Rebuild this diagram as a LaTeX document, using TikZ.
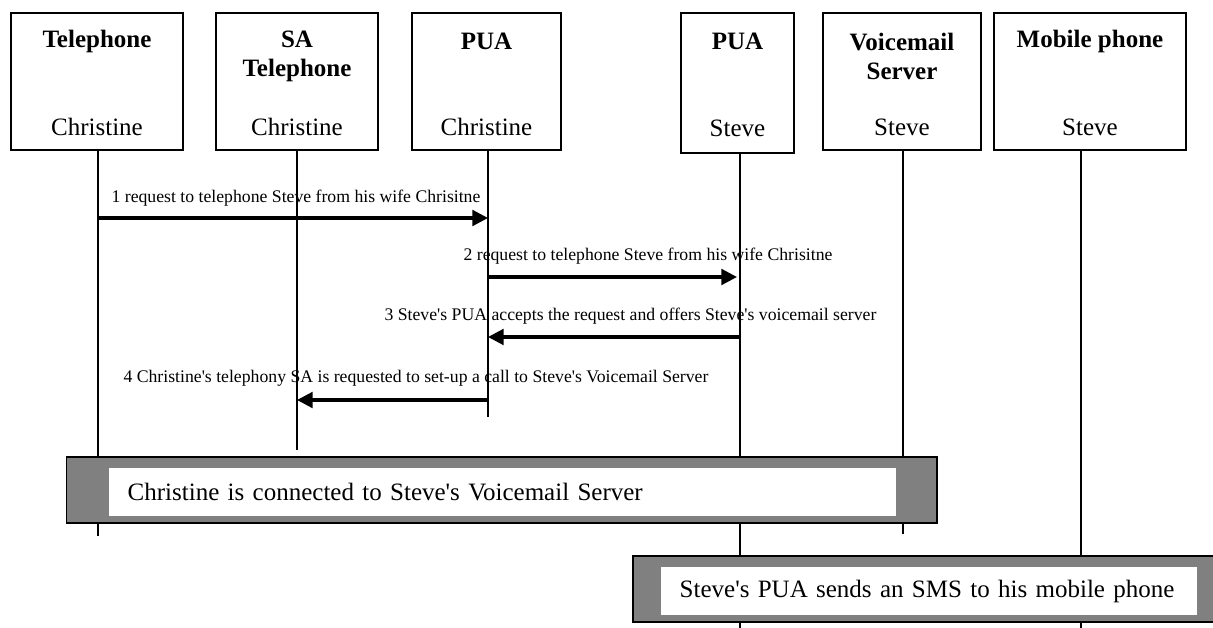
\documentclass[tikz,border=0pt]{standalone}
\usepackage{fontspec}
\setmainfont{Liberation Serif}
\usetikzlibrary{arrows.meta, positioning}

\begin{document}
\begin{tikzpicture}[x=0.48pt, y=-0.48pt,
        actor/.style={draw, line width=0.6pt, inner sep=0, minimum height=65.8pt},
        title/.style={inner sep=0, align=center, font=\fontsize{12}{13.9}\selectfont\bfseries},
        who/.style={inner sep=0, font=\fontsize{12}{14}\selectfont},
        life/.style={line width=0.5pt},
        msg/.style={line width=1.5pt, -{Triangle[length=7.5pt, width=7.5pt]}},
        note/.style={inner sep=0, font=\fontsize{8.5}{10}\selectfont},
        band/.style={draw, line width=0.6pt, fill=gray, minimum height=31.7pt},
        bandtext/.style={fill=white, inner xsep=9pt, inner ysep=0, minimum height=23pt,
            align=left, font=\fontsize{12}{14}\selectfont}]
        \useasboundingbox (0,0) rectangle (1213,628);

        % participants
        \node[actor, minimum width=82.6pt] (tel) at (97,81.5) {};
        \node[actor, minimum width=77.8pt] (sa) at (297,81.5) {};
        \node[actor, minimum width=71.5pt] (puac) at (486.5,81.5) {};
        \node[actor, minimum width=54.2pt, minimum height=67.2pt] (puas) at (737.5,83) {};
        \node[actor, minimum width=75.8pt] (vm) at (902,81.5) {};
        \node[actor, minimum width=92.2pt] (mob) at (1090,81.5) {};

        \node[title] (tel-t) at (97,41) {Telephone};
        \node[title] (sa-t) at (297,56) {SA\\Telephone};
        \node[title] (puac-t) at (486.5,41) {PUA};
        \node[title] (puas-t) at (737.5,41) {PUA};
        \node[title] (vm-t) at (902,56) {Voicemail\\Server};
        \node[title] (mob-t) at (1090,41) {Mobile phone};

        \node[who] (tel-n) at (97,127) {Christine};
        \node[who] (sa-n) at (297,127) {Christine};
        \node[who] (puac-n) at (486.5,127) {Christine};
        \node[who] (puas-n) at (737.5,128) {Steve};
        \node[who] (vm-n) at (902,127) {Steve};
        \node[who] (mob-n) at (1090,127) {Steve};

        % lifelines
        \coordinate (tel-e) at (98,536);
        \coordinate (sa-e) at (297,450);
        \coordinate (puac-e) at (488,417);
        \coordinate (puas-e) at (740,628);
        \coordinate (vm-e) at (903,534);
        \coordinate (mob-e) at (1081,628);

        \draw[life] (tel.south -| tel-e) -- (tel-e)
            (sa.south -| sa-e) -- (sa-e)
            (puac.south -| puac-e) -- (puac-e)
            (puas.south -| puas-e) -- (puas-e)
            (vm.south -| vm-e) -- (vm-e)
            (mob.south -| mob-e) -- (mob-e);

        % messages
        \coordinate (m1a) at (98,218);
        \coordinate (m1b) at (488,218);
        \coordinate (m2a) at (488,277);
        \coordinate (m2b) at (737,277);
        \coordinate (m3a) at (740,337);
        \coordinate (m3b) at (488,337);
        \coordinate (m4a) at (488,400);
        \coordinate (m4b) at (297,400);

        \draw[msg] (m1a) -- (m1b);
        \draw[msg] (m2a) -- (m2b);
        \draw[msg] (m3a) -- (m3b);
        \draw[msg] (m4a) -- (m4b);

        \node[note] (m1) at (296,198) {1 request to telephone Steve from his wife Chrisitne};
        \node[note] (m2) at (648,256) {2 request to telephone Steve from his wife Chrisitne};
        \node[note] (m3) at (630.5,316) {3 Steve\textquotesingle s PUA accepts the request and offers Steve\textquotesingle s voicemail server};
        \node[note] (m4) at (416,378) {4 Christine\textquotesingle s telephony SA is requested to set-up a call to Steve\textquotesingle s Voicemail Server};

        % states
        \node[band, minimum width=417.8pt] (conn) at (501.75,490) {};
        \node[bandtext, text width=359.8pt] (conn-t) at (502.5,492) {Christine is connected to Steve\textquotesingle s Voicemail Server};

        \node[band, minimum width=279.8pt] (sms) at (924.5,589) {};
        \node[bandtext, text width=239.3pt] (sms-t) at (929,591) {Steve\textquotesingle s PUA sends an SMS to his mobile phone};
    \end{tikzpicture}
\end{document}
